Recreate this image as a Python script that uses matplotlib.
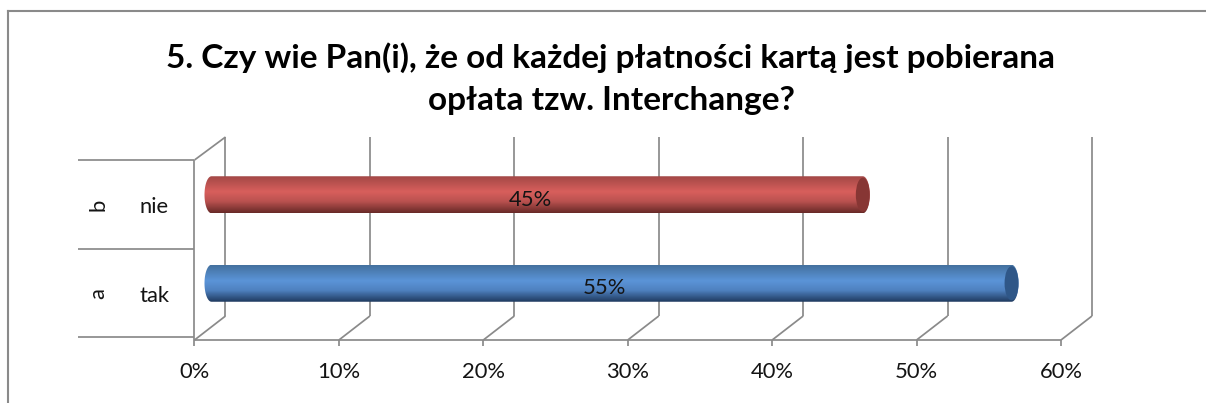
import numpy as np
import matplotlib
matplotlib.use("Agg")
import matplotlib.pyplot as plt
from matplotlib.colors import LinearSegmentedColormap
from matplotlib.lines import Line2D
from matplotlib.patches import Ellipse, Polygon

title = "5. Czy wie Pan(i), że od każdej płatności kartą jest pobierana\nopłata tzw. Interchange?"
letters = ["a", "b"]
categories = ["tak", "nie"]
values = [55.4, 45.1]
value_labels = ["55%", "45%"]
xticks = [0, 10, 20, 30, 40, 50, 60]
xtick_labels = ["0%", "10%", "20%", "30%", "40%", "50%", "60%"]

W, H = 1206, 403
GREY = "#8a8a8a"
FONT = "Lato"
TXT = 15.8
plt.rcParams["font.family"] = [FONT, "DejaVu Sans"]

fig = plt.figure(figsize=(W / 100, H / 100), dpi=100, facecolor="white")
L, R, T, B = 194.5, 1061.0, 160.0, 337.0
ax = fig.add_axes([L / W, 1 - B / H, (R - L) / W, (B - T) / H])
ax.set_xlim(0, 60)
ax.set_ylim(-0.5, 1.5)
ax.axis("off")
PX = (R - L) / 60          # pixels per x unit
PY = (B - T) / 2           # pixels per category
dx, dy = 31 / PX, 22 / PY  # wall depth
LW = 1.25


def line(xs, ys, **kw):
    ax.plot(xs, ys, color=GREY, lw=LW, clip_on=False, solid_capstyle="butt", zorder=1, **kw)


floor = -0.5 - 3 / PY
top = 1.5
for t in xticks:
    line([t + dx, t + dx], [-0.5 + 21 / PY, top + 23 / PY])             # back wall
    line([t, t + dx], [floor, -0.5 + 21 / PY])                          # floor diagonal
    line([t, t], [floor, floor - 6 / PY])                               # tick
    ax.text(t, floor - 32 / PY, xtick_labels[xticks.index(t)], ha="center", va="center",
            fontsize=TXT, color="#141414", clip_on=False)
line([xticks[0], xticks[-1]], [floor, floor])
line([0, 0], [floor, top])
line([0, dx], [top, top + 23 / PY])

# multi-level category axis
for y in [-0.5, 0.5, 1.5]:
    line([-116 / PX, 0], [y, y])
for i, (a, c) in enumerate(zip(letters, categories)):
    ax.text(-96 / PX, i - 1 / PY, a, rotation=90, ha="center", va="center", fontsize=TXT, color="#141414")
    ax.text(-40 / PX, i - 3 / PY, c, ha="center", va="center", fontsize=TXT, color="#141414")

# cylinder bars
styles = [
    (["#44719f", "#5b94d8", "#4f82c0", "#1f3a5f"], "#2f5788"),
    (["#a34846", "#d85f5c", "#bb5250", "#692a28"], "#873634"),
]
off_x, off_y = 17 / PX, 9.5 / PY
hh, rx = 18.5 / PY, 7 / PX
theta = np.linspace(np.pi / 2, 3 * np.pi / 2, 40)
for i, v in enumerate(values):
    grad_cols, cap = styles[i]
    yc = i + off_y
    x0, x1 = off_x, v + off_x
    left = np.column_stack([x0 + rx * np.cos(theta), yc + hh * np.sin(theta)])
    right = np.column_stack([x1 - rx * np.cos(theta), yc - hh * np.sin(theta)])
    shape = Polygon(np.vstack([left, right]), closed=True, fc="none", ec="none", transform=ax.transData)
    ax.add_patch(shape)
    cmap = LinearSegmentedColormap.from_list("g", list(zip([0, 0.42, 0.68, 1], grad_cols)))
    g = np.linspace(0, 1, 64)[:, None]
    im = ax.imshow(g, origin="upper", cmap=cmap, aspect="auto", interpolation="bilinear",
                   extent=[x0 - rx, x1 + rx, yc - hh, yc + hh], zorder=2)
    im.set_clip_path(shape)
    ax.add_patch(Ellipse((x1, yc), 2 * rx, 2 * hh * 0.92, fc=cap, ec="none", zorder=3))
    ax.text(v / 2 + 10 / PX, yc - 5 / PY, value_labels[i], ha="center", va="center",
            fontsize=TXT, color="#141414", zorder=4)
ax.set_xlim(0, 60)
ax.set_ylim(-0.5, 1.5)

# chart frame
def fx(p): return p / W
def fy(p): return 1 - p / H
fig.add_artist(Line2D([fx(8), fx(8)], [fy(403), fy(11)], color=GREY, lw=1.5))
fig.add_artist(Line2D([fx(8), fx(1206)], [fy(11), fy(11)], color=GREY, lw=1.5))

fig.text(fx(611), fy(79), title, ha="center", va="center", fontsize=24, fontweight="bold",
         color="black", linespacing=1.55)

fig.savefig("out.png", dpi=100, facecolor="white")
